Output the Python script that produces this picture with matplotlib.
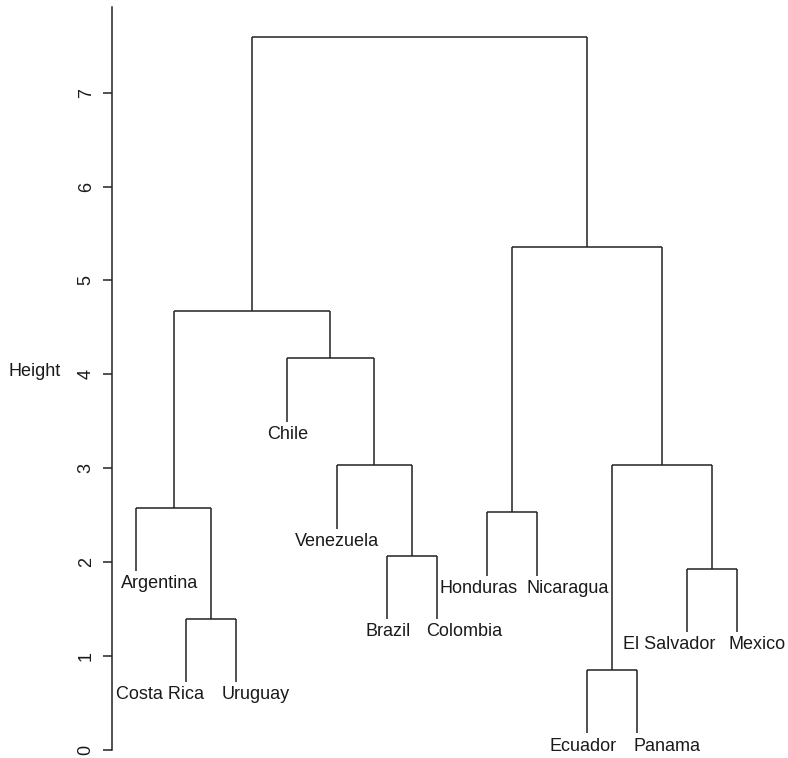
import numpy as np
import matplotlib
matplotlib.use("Agg")
import matplotlib.pyplot as plt

plt.rcParams['font.family'] = ['Liberation Sans', 'DejaVu Sans']

# leaf order as drawn, left to right
leaves = ["Argentina", "Costa Rica", "Uruguay", "Chile", "Venezuela", "Brazil",
          "Colombia", "Honduras", "Nicaragua", "Ecuador", "Panama",
          "El Salvador", "Mexico"]

# merges: negative = leaf index (1-based), positive = earlier merge (1-based)
merge_left = [-2, -1, -6, -5, -4, 2, -8, -10, -12, 8, 7, 6]
merge_right = [-3, 1, -7, 3, 4, 5, -9, -11, -13, 9, 10, 11]
merge_height = [1.40, 2.58, 2.07, 3.03, 4.17, 4.67, 2.53, 0.85, 1.93, 3.04, 5.36, 7.59]

# label nudges (pixels) so neighbouring names don't collide
label_dx = [23, -26.5, 19.5, 1, 0, 1, 27, -8, 31, -4.5, 30, -18, 20]

hang = 0.1 * (max(merge_height) - min(merge_height))
line_col = "#222222"
txt_col = "#1a1a1a"

fig = plt.figure(figsize=(7.88, 7.58), dpi=100)
ax = fig.add_axes([112 / 788, 0, 676 / 788, 1])
ax.set_xlim(0.515, 14.01)
ax.set_ylim(-0.085, 7.987)

xpos = {}
for k, (a, b, h) in enumerate(zip(merge_left, merge_right, merge_height), start=1):
    ends = []
    for child in (a, b):
        if child < 0:
            x = float(-child)
            y_low = h - hang
            ax.annotate(leaves[-child - 1], (x, y_low),
                        xytext=(label_dx[-child - 1], -17.3),
                        textcoords='offset pixels', ha='center', va='baseline',
                        fontsize=13, color=txt_col)
        else:
            x, y_low = xpos[child]
        ax.plot([x, x], [y_low, h], color=line_col, lw=1.1, solid_capstyle='butt')
        ends.append(x)
    ax.plot(ends, [h, h], color=line_col, lw=1.1, solid_capstyle='butt')
    xpos[k] = ((ends[0] + ends[1]) / 2, h)

for s in ['top', 'right', 'bottom']:
    ax.spines[s].set_visible(False)
ax.spines['left'].set_bounds(0, 7.91)
ax.spines['left'].set_color(line_col)
ax.spines['left'].set_linewidth(1.1)
ax.set_xticks([])
ax.set_yticks(range(8))
ax.set_yticklabels([str(i) for i in range(8)], rotation=90, va='center',
                   fontsize=13, color=txt_col)
ax.tick_params(axis='y', length=6.5, width=1.1, pad=6, colors=line_col,
               labelcolor=txt_col)

fig.text(35 / 788, 1 - 371 / 758, "Height", ha='center', va='center',
         fontsize=13, color=txt_col)

fig.savefig("out.png", dpi=100)
